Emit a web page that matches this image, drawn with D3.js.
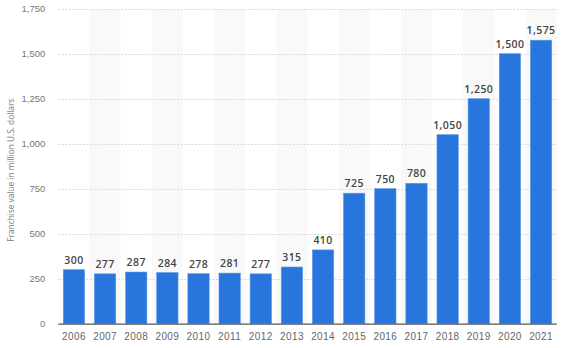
<!DOCTYPE html>
<html><head><meta charset="utf-8">
<script src="https://cdn.jsdelivr.net/npm/d3@7"></script>
<style>body{margin:0;background:#fff;}svg{display:block;font-family:"Open Sans",Roboto,sans-serif;}</style>
</head><body><svg id="c" width="564" height="348"></svg>
<script>
const years = ["2006","2007","2008","2009","2010","2011","2012","2013","2014","2015","2016","2017","2018","2019","2020","2021"];
const values = [300,277,287,284,278,281,277,315,410,725,750,780,1050,1250,1500,1575];
const yTicks = [0,250,500,750,1000,1250,1500,1750];
const yTitle = "Franchise value in million U.S. dollars";

(function(){
const svg = d3.select("#c");
const pL = 58.3, pR = 556.7, pT = 8.7, pB = 323.7;
const x = d3.scaleBand().domain(years).range([pL,pR]).paddingInner(0.315).paddingOuter(0.16);
const xb = d3.scaleBand().domain(years).range([pL,pR]).padding(0);
const y = d3.scaleLinear().domain([0,1750]).range([pB,pT]);
const fmt = d3.format(",");

// shaded bands
svg.append("g").selectAll("rect").data(years.filter((d,i)=>i%2===1)).join("rect")
  .attr("x",d=>xb(d)).attr("width",xb.bandwidth()).attr("y",pT).attr("height",pB-pT)
  .attr("fill","#f9f9f9");

// grid
const yAxis = d3.axisLeft(y).tickValues(yTicks).tickFormat(fmt).tickSize(0).tickPadding(13);
const ga = svg.append("g").attr("transform",`translate(${pL},0)`).call(yAxis);
ga.select(".domain").remove();
ga.selectAll("text").attr("fill","#777").attr("font-size","9.5px");
svg.append("g").selectAll("line").data(yTicks.filter(d=>d>0)).join("line")
  .attr("x1",pL).attr("x2",pR).attr("y1",d=>Math.round(y(d))+0.5).attr("y2",d=>Math.round(y(d))+0.5)
  .attr("stroke","#dadada").attr("stroke-dasharray","2,1.5").attr("stroke-width",1);

// bars
svg.append("g").selectAll("rect").data(values).join("rect")
  .attr("x",(d,i)=>x(years[i])).attr("width",x.bandwidth())
  .attr("y",d=>y(d)).attr("height",d=>pB-y(d))
  .attr("fill","#2775dd").attr("stroke","#5b97e6").attr("stroke-width",0.6);

// value labels
svg.append("g").selectAll("text").data(values).join("text")
  .attr("x",(d,i)=>x(years[i])+x.bandwidth()/2).attr("y",d=>y(d)-6)
  .attr("text-anchor","middle").attr("font-size","10.5px").attr("font-weight","600")
  .attr("fill","#444").attr("letter-spacing","0.4px").text(d=>fmt(d));

// baseline
svg.append("line").attr("x1",pL).attr("x2",pR).attr("y1",pB+0.5).attr("y2",pB+0.5)
  .attr("stroke","#555").attr("stroke-width",1.2);

// x axis
const xAxis = d3.axisBottom(x).tickSize(0).tickPadding(9);
const gx = svg.append("g").attr("transform",`translate(0,${pB})`).call(xAxis);
gx.select(".domain").remove();
gx.selectAll("text").attr("fill","#666").attr("font-size","10px").attr("letter-spacing","0.4px");

// y title
svg.append("text").attr("transform",`translate(14,${(pT+pB)/2+4}) rotate(-90)`)
  .attr("text-anchor","middle").attr("font-size","8.3px").attr("fill","#777").text(yTitle);
})();
</script></body></html>
